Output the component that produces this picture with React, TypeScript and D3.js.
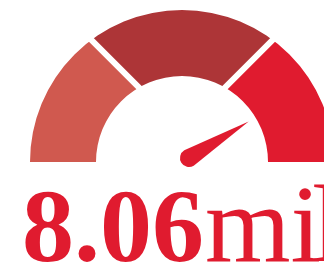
import { arc, scaleLinear } from "d3";

// gauge bands (share of the dial) and their colours
const bands = ["low", "medium", "high"];
const bandStops = [0, 1 / 3, 2 / 3, 1];
const bandColors = ["#d0594f", "#ad3537", "#e01b2f"];
const needleValue = 0.825;
const valueLabel = "8.06";
const unitLabel = "million";

export default function App() {
  const width = 324,
    height = 266;
  const cx = 182,
    cy = 162;
  const outerRadius = 152,
    innerRadius = 86;
  const gapWidth = 6;
  const red = "#e01b2f";
  const far = 400;

  const angle = scaleLinear().domain([0, 1]).range([-Math.PI / 2, Math.PI / 2]);

  const dial =
    arc<any>()
      .innerRadius(innerRadius)
      .outerRadius(outerRadius)
      .startAngle(-Math.PI / 2)
      .endAngle(Math.PI / 2)({} as any) ?? "";

  // band edges are cut at 45deg, starting from the inner corner of each boundary
  const cuts = bandStops.slice(1, -1).map((s) => {
    const a = angle(s);
    const x0 = Math.sin(a) * innerRadius,
      y0 = -Math.cos(a) * innerRadius;
    const dx = Math.sign(Math.sin(a)) / Math.SQRT2,
      dy = -1 / Math.SQRT2;
    return { x0, y0, dx, dy };
  });
  const [cl, cr] = cuts;
  const pts = (p: number[][]) => p.map((q) => q.join(",")).join(" ");
  const up = (c: typeof cl) => [c.x0 + c.dx * far, c.y0 + c.dy * far];
  const down = (c: typeof cl) => [c.x0 - c.dx * far, c.y0 - c.dy * far];
  const clips = [
    pts([up(cl), down(cl), [-1000, down(cl)[1]], [-1000, up(cl)[1]]]),
    pts([up(cl), up(cr), [0, cl.y0 - cl.x0]]),
    pts([up(cr), down(cr), [1000, down(cr)[1]], [1000, up(cr)[1]]]),
  ];

  // needle
  const px = 7,
    py = -4,
    pr = 9,
    len = 70;
  const na = angle(needleValue);
  const ux = Math.sin(na),
    uy = -Math.cos(na);
  const tip = [px + ux * len, py + uy * len];
  const left = [px + uy * pr, py - ux * pr];
  const right = [px - uy * pr, py + ux * pr];
  const needlePath = `M${tip[0]},${tip[1]}L${left[0]},${left[1]}A${pr},${pr} 0 1 0 ${right[0]},${right[1]}Z`;

  return (
    <svg
      width={width}
      height={height}
      style={{ position: "fixed", left: 0, top: 0, background: "#fff" }}
    >
      <defs>
        {bands.map((b, i) => (
          <clipPath id={`band-${b}`} key={b}>
            <polygon points={clips[i]} />
          </clipPath>
        ))}
      </defs>
      <g transform={`translate(${cx},${cy})`}>
        {bands.map((b, i) => (
          <path key={b} d={dial} fill={bandColors[i]} clipPath={`url(#band-${b})`} />
        ))}
        {cuts.map((c, i) => (
          <line
            key={i}
            x1={c.x0 - c.dx * 10}
            y1={c.y0 - c.dy * 10}
            x2={c.x0 + c.dx * 100}
            y2={c.y0 + c.dy * 100}
            stroke="#fff"
            strokeWidth={gapWidth}
          />
        ))}
        <path d={needlePath} fill={red} />
      </g>
      <text
        x={22}
        y={261}
        fill={red}
        fontFamily="'Liberation Serif', 'Times New Roman', serif"
        fontSize={110}
      >
        <tspan fontSize={104} fontWeight="bold">{valueLabel}</tspan>
        <tspan dx={1}>{unitLabel.slice(0, 1)}</tspan>
        <tspan letterSpacing={-9}>{unitLabel.slice(1)}</tspan>
      </text>
    </svg>
  );
}
